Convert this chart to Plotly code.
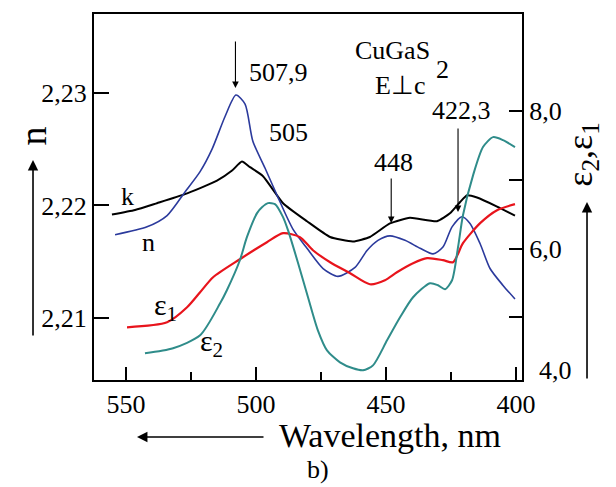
import plotly.graph_objects as go

# ---- data ----
n_wl = [554.2, 541.9, 534.2, 527.3, 521.5, 516.9, 511.9, 507.7, 504.2, 501.2, 496.5, 491.9,
        485.8, 480.4, 474.2, 468.5, 461.9, 457.3, 453.1, 448.5, 442.7, 436.9, 431.9, 428.1,
        424.6, 420.8, 417.7, 413.8, 410.0, 405.0, 400.4]
n_val = [2.2174, 2.2181, 2.2191, 2.2212, 2.2230, 2.2250, 2.2279, 2.2298, 2.2290, 2.2257, 2.2233, 2.2209,
         2.2179, 2.2162, 2.2144, 2.2137, 2.2145, 2.2160, 2.2169, 2.2173, 2.2169, 2.2162, 2.2157, 2.2163,
         2.2181, 2.2190, 2.2184, 2.2166, 2.2144, 2.2129, 2.2117]

k_wl = [555.4, 546.5, 538.1, 527.3, 515.0, 509.2, 505.4, 502.3, 497.3, 489.6, 480.4, 471.5,
        462.7, 456.2, 448.5, 440.8, 430.4, 425.4, 421.5, 418.8, 415.0, 407.3, 400.4]
k_val = [2.2192, 2.2196, 2.2202, 2.2210, 2.2222, 2.2231, 2.2239, 2.2234, 2.2226, 2.2202, 2.2186, 2.2172,
         2.2168, 2.2172, 2.2184, 2.2189, 2.2186, 2.2193, 2.2203, 2.2209, 2.2207, 2.2199, 2.2191]

e1_wl = [549.6, 534.2, 526.5, 521.5, 516.5, 506.2, 495.8, 489.6, 483.1, 478.1, 471.5, 463.8,
         456.2, 450.4, 445.8, 439.6, 434.2, 428.1, 424.2, 420.4, 413.8, 407.3, 400.4]
e1_val = [4.854, 4.926, 5.145, 5.363, 5.582, 5.844, 6.092, 6.223, 6.165, 5.975, 5.800, 5.640,
          5.480, 5.538, 5.655, 5.786, 5.859, 5.830, 5.801, 6.077, 6.369, 6.558, 6.645]

e2_wl = [542.7, 531.9, 521.5, 513.8, 511.2, 506.2, 503.5, 499.6, 497.7, 495.4, 492.7, 489.6,
         487.7, 483.8, 480.0, 476.2, 472.7, 467.7, 462.7, 458.8, 455.0, 449.6, 444.6, 439.6,
         433.1, 430.0, 427.3, 424.6, 422.3, 420.4, 416.5, 412.7, 408.8, 405.0, 400.4]
e2_val = [4.475, 4.548, 4.737, 5.203, 5.393, 5.829, 6.165, 6.515, 6.600, 6.660, 6.645, 6.456,
          6.267, 5.786, 5.291, 4.810, 4.519, 4.344, 4.257, 4.228, 4.300, 4.664, 4.999, 5.291,
          5.495, 5.466, 5.407, 5.538, 6.019, 6.485, 7.068, 7.476, 7.621, 7.577, 7.476]

x_ticks = [550, 500, 450, 400]
x_minor = [525, 475, 425]
n_ticks = [2.21, 2.22, 2.23]
n_ticktext = ["2,21", "2,22", "2,23"]
e_ticks = [5.0, 6.0, 7.0, 8.0]
e_ticktext = ["", "6,0", "", "8,0"]
peaks = [507.9, 448, 422.3]

FONT = "Liberation Serif, Times New Roman, serif"
BLUE = "#2b3a9c"
RED = "#e8141c"
TEAL = "#2f8c8a"

fig = go.Figure()
fig.add_trace(go.Scatter(x=k_wl, y=k_val, mode="lines", line=dict(color="black", width=2, shape="spline", smoothing=0.5), yaxis="y"))
fig.add_trace(go.Scatter(x=n_wl, y=n_val, mode="lines", line=dict(color=BLUE, width=1.6, shape="spline", smoothing=0.7), yaxis="y"))
fig.add_trace(go.Scatter(x=e1_wl, y=e1_val, mode="lines", line=dict(color=RED, width=2.2, shape="spline", smoothing=0.7), yaxis="y2"))
fig.add_trace(go.Scatter(x=e2_wl, y=e2_val, mode="lines", line=dict(color=TEAL, width=2, shape="spline", smoothing=0.7), yaxis="y2"))

ann = []
def txt(t, x, y, size=26, angle=0, xanchor="center"):
    ann.append(dict(text=t, x=x, y=y, xref="paper", yref="paper", showarrow=False,
                    font=dict(family=FONT, size=size, color="black"), textangle=angle,
                    xanchor=xanchor, yanchor="middle"))

def arrow_paper(x, y, ax, ay):
    ann.append(dict(text="", x=x, y=y, xref="paper", yref="paper", ax=ax, ay=ay, showarrow=True,
                    arrowhead=2, arrowsize=1.3, arrowwidth=1.6, arrowcolor="black"))

# peak arrows (x in data wavelength)
for wl, tipy, ay in zip(peaks, [0.7978, 0.429, 0.459], [-48, -46, -85]):
    ann.append(dict(text="", x=wl, y=tipy, xref="x", yref="paper", ax=0, ay=ay, showarrow=True,
                    arrowhead=2, arrowsize=1.2, arrowwidth=1.1, arrowcolor="black"))

txt("507,9", 0.4322, 0.8415)
txt("505", 0.4533, 0.6749)
txt("448", 0.6986, 0.5956)
txt("422,3", 0.8598, 0.7377)
txt("CuGaS", 0.6963, 0.9016)
txt("2", 0.8131, 0.847)
txt("E\u22a5c", 0.715, 0.806)
txt("k", 0.0794, 0.5027)
txt("n", 0.1262, 0.377)
txt("\u03b5<sub>1</sub>", 0.1659, 0.1995, size=30)
txt("\u03b5<sub>2</sub>", 0.2757, 0.101, size=30)
txt("4,0", 1.0794, 0.0273)
txt("b)", 0.5234, -0.2459)
txt("Wavelength, nm", 0.6916, -0.1503, size=34)
txt("n", -0.1425, 0.665, size=38, angle=-90)
txt("\u03b5<sub>2</sub>,\u03b5<sub>1</sub>", 1.142, 0.615, size=36, angle=-90)

arrow_paper(0.1005, -0.1557, 128, 0)
arrow_paper(-0.1425, 0.601, 0, 177)
arrow_paper(1.1519, 0.4863, 0, 178)

fig.update_layout(
    width=616, height=487,
    margin=dict(l=94, r=94, t=14, b=107, autoexpand=False),
    paper_bgcolor="white", plot_bgcolor="white",
    showlegend=False,
    font=dict(family=FONT, size=26, color="black"),
    xaxis=dict(range=[562.3, 397.7], tickvals=x_ticks, ticktext=[str(v) for v in x_ticks],
               ticks="inside", ticklen=13, tickwidth=2, tickcolor="black", ticklabelstandoff=0,
               minor=dict(tickvals=x_minor, ticks="inside", ticklen=8, tickwidth=2, tickcolor="black"),
               showline=True, linecolor="black", linewidth=2, mirror=True, automargin=False,
               showgrid=False, zeroline=False, tickfont=dict(family=FONT, size=26)),
    yaxis=dict(range=[2.2045, 2.2370], tickvals=n_ticks, ticktext=n_ticktext,
               ticks="inside", ticklen=15, tickwidth=2, tickcolor="black", automargin=False,
               showline=True, linecolor="black", linewidth=2,
               showgrid=False, zeroline=False, tickfont=dict(family=FONT, size=26)),
    yaxis2=dict(range=[4.087, 9.412], tickvals=e_ticks, ticktext=e_ticktext, overlaying="y", side="right",
                ticks="inside", ticklen=13, tickwidth=2, tickcolor="black", automargin=False,
                showline=True, linecolor="black", linewidth=2,
                showgrid=False, zeroline=False, tickfont=dict(family=FONT, size=26)),
    annotations=ann,
)

fig.write_html("out.html", config={"displayModeBar": False},
               post_script="document.body.style.margin='0';document.body.style.padding='0';")
